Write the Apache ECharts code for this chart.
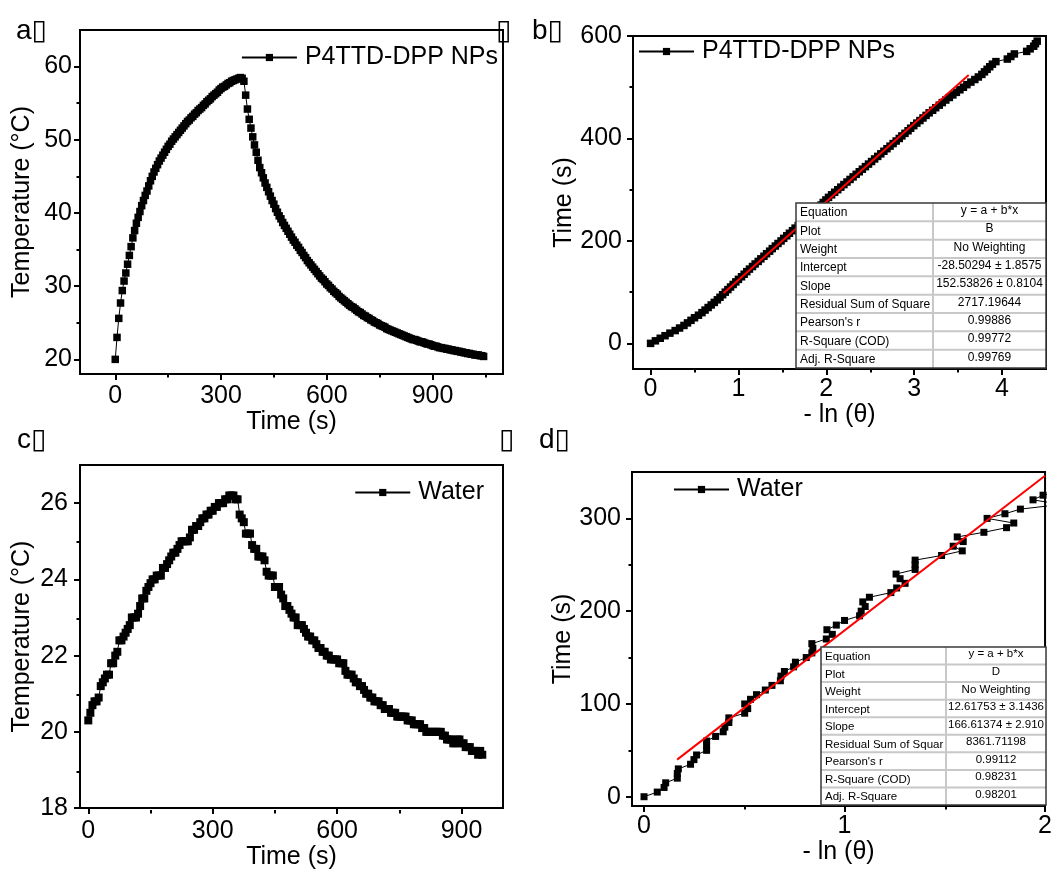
<!DOCTYPE html>
<html><head><meta charset="utf-8">
<script src="https://cdn.jsdelivr.net/npm/echarts@6/dist/echarts.min.js"></script>
<style>html,body{margin:0;padding:0;background:#fff}#c{width:1055px;height:871px}</style>
</head><body><div id="c"></div>
<script>
// ---------------- data ----------------
const STEP = 5; // sampling interval (s)
// (a) P4TTD-DPP NPs temperature (°C), every 5 s from 0 s
const tempA = [
20.0,23.0,25.6,27.7,29.4,30.7,31.8,33.0,34.2,35.4,
36.6,37.6,38.6,39.4,40.2,41.0,41.7,42.4,43.0,43.7,
44.4,45.0,45.6,46.1,46.6,47.1,47.5,47.9,48.3,48.7,
49.1,49.4,49.8,50.1,50.4,50.7,51.0,51.3,51.6,51.9,
52.2,52.5,52.7,53.0,53.2,53.5,53.7,54.0,54.2,54.4,
54.7,54.9,55.2,55.4,55.6,55.9,56.1,56.3,56.5,56.8,
57.0,57.2,57.3,57.5,57.7,57.8,58.0,58.1,58.2,58.3,
58.4,58.5,58.4,
58.0,56.1,54.2,52.8,51.6,50.4,49.3,48.3,47.2,46.2,
45.5,44.8,44.1,43.5,42.9,42.3,41.7,41.2,40.6,40.1,
39.6,39.2,38.7,38.3,37.9,37.5,37.1,36.7,36.3,36.0,
35.6,35.3,34.9,34.6,34.2,33.9,33.5,33.2,32.9,32.6,
32.3,32.0,31.7,31.4,31.1,30.9,30.6,30.3,30.1,29.8,
29.6,29.3,29.1,28.9,28.6,28.4,28.2,28.0,27.8,27.6,
27.4,27.2,27.1,26.9,26.7,26.5,26.4,26.2,26.0,25.9,
25.7,25.6,25.4,25.3,25.1,25.0,24.9,24.7,24.6,24.5,
24.4,24.2,24.1,24.0,23.9,23.8,23.7,23.6,23.5,23.4,
23.3,23.2,23.1,23.0,22.9,22.8,22.7,22.7,22.6,22.5,
22.4,22.4,22.3,22.2,22.1,22.1,22.0,21.9,21.8,21.8,
21.7,21.6,21.6,21.5,21.5,21.4,21.4,21.3,21.3,21.2,
21.2,21.1,21.1,21.0,21.0,20.9,20.9,20.8,20.8,20.7,
20.7,20.6,20.6,20.6,20.5,20.5,20.4];
// (b) -ln(theta) of NPs cooling, cooling time every 5 s from 0 s
const lnB = [
0,0.055,0.11,0.165,0.22,0.28,0.33,0.38,0.42,0.46,
0.50,0.545,0.585,0.62,0.655,0.69,0.725,0.76,0.79,0.82,
0.85,0.88,0.91,0.94,0.97,1.0,1.035,1.065,1.095,1.125,
1.16,1.19,1.225,1.255,1.29,1.32,1.355,1.385,1.42,1.45,
1.485,1.515,1.55,1.58,1.615,1.645,1.68,1.71,1.745,1.775,
1.81,1.84,1.875,1.905,1.94,1.965,1.995,2.025,2.06,2.095,
2.13,2.165,2.2,2.235,2.27,2.305,2.34,2.375,2.41,2.445,
2.48,2.515,2.55,2.585,2.62,2.655,2.69,2.725,2.76,2.795,
2.83,2.86,2.895,2.93,2.96,2.995,3.03,3.065,3.1,3.135,
3.17,3.21,3.245,3.285,3.32,3.36,3.4,3.44,3.48,3.52,
3.56,3.6,3.645,3.69,3.73,3.77,3.8,3.83,3.86,3.89,
3.93,4.06,4.1,4.14,4.28,4.32,4.36,4.38,4.4];
// (c) Water temperature (°C), every 5 s from 0 s
const tempC = [
20.3,20.5,20.7,20.8,20.8,20.9,21.2,21.3,21.4,21.5,
21.5,21.8,21.8,22.0,22.1,22.4,22.4,22.5,22.6,22.7,
22.8,23.0,23.0,23.0,23.1,23.3,23.5,23.5,23.7,23.8,
23.9,24.0,24.0,24.1,24.1,24.1,24.3,24.3,24.4,24.5,
24.6,24.7,24.7,24.8,24.9,25.0,25.0,25.0,25.0,25.1,
25.3,25.3,25.4,25.4,25.5,25.6,25.6,25.7,25.7,25.8,
25.8,25.9,25.9,26.0,26.0,26.0,26.1,26.1,26.2,26.2,
26.2,26.1,26.1,25.7,25.6,25.5,25.2,25.2,25.2,24.9,
24.8,24.8,24.6,24.6,24.6,24.5,24.2,24.1,24.1,24.1,
23.8,23.8,23.8,23.6,23.5,23.3,23.3,23.2,23.1,23.0,
23.0,22.8,22.8,22.8,22.7,22.6,22.5,22.5,22.4,22.4,
22.3,22.2,22.2,22.1,22.1,22.0,22.0,21.9,21.9,21.9,
21.9,21.8,21.8,21.8,21.6,21.5,21.5,21.5,21.4,21.3,
21.3,21.2,21.2,21.1,21.0,21.0,20.9,20.9,20.8,20.8,
20.8,20.7,20.7,20.6,20.6,20.6,20.5,20.5,20.5,20.4,
20.4,20.4,20.4,20.4,20.3,20.3,20.3,20.2,20.2,20.2,
20.2,20.1,20.1,20.0,20.0,20.0,20.0,20.0,20.0,20.0,
20.0,19.9,19.9,19.8,19.8,19.8,19.7,19.7,19.8,19.8,
19.7,19.7,19.6,19.6,19.6,19.5,19.5,19.5,19.4,19.5,
19.4];
// (d) Water cooling: -ln(theta) and time (s)
const lnD = [0,0.066,0.10,0.108,0.166,0.166,0.171,0.232,0.249,0.262,
0.312,0.312,0.312,0.357,0.395,0.403,0.423,0.423,0.502,0.517,
0.502,0.531,0.561,0.605,0.638,0.680,0.683,0.700,0.746,0.755,
0.809,0.837,0.842,0.837,0.909,0.939,0.912,0.959,1.0,1.075,
1.083,1.103,1.091,1.124,1.231,1.26,1.302,1.277,1.257,1.352,
1.352,1.352,1.484,1.587,1.542,1.592,1.562,1.695,1.808,1.844,
1.711,1.80,1.877,2.08,1.94,1.99,2.1];
const timeD = [0,5,10,15,20,25,30,35,40,45,
50,55,60,65,70,75,80,85,90,95,
100,105,110,115,120,125,130,135,140,145,
150,155,160,165,170,175,180,185,190,195,
200,205,210,215,220,225,230,235,240,245,
250,255,260,265,270,275,280,285,290,295,
300,305,310,315,320,325,330];
// linear fits (end points of drawn red lines)
const fitBx = [0.83, 3.62], fitBy = [98, 524];
const fitDx = [0.165, 2.0], fitDy = [40, 346];
// tick labels
const ticksTime = [0, 300, 600, 900];
const ticksLnB = [0, 1, 2, 3, 4];
const ticksLnD = [0, 1, 2];
const ticksTempA = [20, 30, 40, 50, 60];
const ticksTempC = [18, 20, 22, 24, 26];
const ticksTimeB = [0, 200, 400, 600];
const ticksTimeD = [0, 100, 200, 300];
// fit tables
const tableB = [["Equation","y = a + b*x"],["Plot","B"],["Weight","No Weighting"],["Intercept","-28.50294 ± 1.8575"],["Slope","152.53826 ± 0.8104"],["Residual Sum of Square","2717.19644"],["Pearson's r","0.99886"],["R-Square (COD)","0.99772"],["Adj. R-Square","0.99769"]];
const tableD = [["Equation","y = a + b*x"],["Plot","D"],["Weight","No Weighting"],["Intercept","12.61753 ± 3.1436"],["Slope","166.61374 ± 2.910"],["Residual Sum of Squar","8361.71198"],["Pearson's r","0.99112"],["R-Square (COD)","0.98231"],["Adj. R-Square","0.98201"]];

// ---------------- layout ----------------
const F = '"Liberation Sans", Arial, sans-serif';
const FS = 25;
const grids = [
  {left:80, top:30, width:423, height:344},
  {left:633, top:36, width:413, height:333},
  {left:80, top:465, width:423, height:345},
  {left:632, top:472, width:414, height:334}
];
const panels = [
  {x:{min:-100,max:1100,major:ticksTime,minor:[150,450,750,1050],name:'Time (s)',gap:31,margin:10},
   y:{min:18,max:65,major:ticksTempA,minor:[25,35,45,55],name:'Temperature (°C)',gap:45,margin:8}},
  {x:{min:-0.2,max:4.5,major:ticksLnB,minor:[0.5,1.5,2.5,3.5],name:'- ln (θ)',gap:28,margin:8},
   y:{min:-50,max:600,major:ticksTimeB,minor:[100,300,500],name:'Time (s)',gap:55,margin:11}},
  {x:{min:-20,max:1000,major:ticksTime,minor:[150,450,750],name:'Time (s)',gap:32,margin:11},
   y:{min:18,max:27,major:ticksTempC,minor:[19,21,23,25],name:'Temperature (°C)',gap:45,margin:12}},
  {x:{min:-0.06,max:2,major:ticksLnD,minor:[0.5,1.5],name:'- ln (θ)',gap:33,margin:8},
   y:{min:-10,max:350,major:ticksTimeD,minor:[50,150,250],name:'Time (s)',gap:56,margin:11}}
];

const gridOpt = [], xAxes = [], yAxes = [];
grids.forEach(g => gridOpt.push(Object.assign({show:true, borderColor:'#000', borderWidth:2, backgroundColor:'transparent', containLabel:false}, g)));
grids.forEach(g => gridOpt.push(Object.assign({show:false, containLabel:false}, g)));
const lineS = {color:'#000', width:2};
const nameStyle = {fontSize:FS, color:'#000', fontFamily:F};
panels.forEach((p, i) => {
  xAxes.push({type:'value', gridIndex:i, min:p.x.min, max:p.x.max, position:'bottom',
    axisLine:{show:true, onZero:false, lineStyle:lineS},
    axisTick:{show:true, length:6, lineStyle:lineS, customValues:p.x.major},
    axisLabel:{show:true, customValues:p.x.major, color:'#000', fontSize:FS, fontFamily:F, margin:p.x.margin},
    splitLine:{show:false}, name:p.x.name, nameLocation:'middle', nameGap:p.x.gap, nameTextStyle:nameStyle});
  yAxes.push({type:'value', gridIndex:i, min:p.y.min, max:p.y.max, position:'left',
    axisLine:{show:true, onZero:false, lineStyle:lineS},
    axisTick:{show:true, length:6, lineStyle:lineS, customValues:p.y.major},
    axisLabel:{show:true, customValues:p.y.major, color:'#000', fontSize:FS, fontFamily:F, margin:p.y.margin},
    splitLine:{show:false}, name:p.y.name, nameLocation:'middle', nameGap:p.y.gap, nameTextStyle:nameStyle});
});
panels.forEach((p, i) => {
  xAxes.push({type:'value', gridIndex:4+i, min:p.x.min, max:p.x.max, position:'bottom',
    axisLine:{show:false, onZero:false}, axisLabel:{show:false},
    axisTick:{show:true, length:3.5, lineStyle:lineS, customValues:p.x.minor}, splitLine:{show:false}});
  yAxes.push({type:'value', gridIndex:4+i, min:p.y.min, max:p.y.max, position:'left',
    axisLine:{show:false, onZero:false}, axisLabel:{show:false},
    axisTick:{show:true, length:3.5, lineStyle:lineS, customValues:p.y.minor}, splitLine:{show:false}});
});

const dataA = tempA.map((v, i) => [i * STEP, v]);
const dataB = lnB.map((v, i) => [v, i * STEP]);
const dataC = tempC.map((v, i) => [i * STEP, v]);
const dataD = lnD.map((v, i) => [v, timeD[i]]);
const fitB = fitBx.map((v, i) => [v, fitBy[i]]);
const fitD = fitDx.map((v, i) => [v, fitDy[i]]);

function sym(name, idx, data, size) {
  return {type:'line', name, xAxisIndex:idx, yAxisIndex:idx, data, symbol:'rect', symbolSize:size,
    showSymbol:true, itemStyle:{color:'#000'}, lineStyle:{color:'#000', width:1}, z:2, animation:false};
}
function fit(idx, data) {
  return {type:'line', name:'fit'+idx, xAxisIndex:idx, yAxisIndex:idx, data, symbol:'none',
    lineStyle:{color:'#ff0000', width:2}, z:3, animation:false, silent:true};
}
const series = [
  sym('P4TTD-DPP NPs', 0, dataA, 7.5),
  sym('P4TTD-DPP NPs', 1, dataB, 7.5),
  fit(1, fitB),
  sym('Water', 2, dataC, 8),
  sym('Water', 3, dataD, 7),
  fit(3, fitD)
];

const legBase = {orient:'horizontal', itemWidth:55, itemHeight:9, padding:0, selectedMode:false,
  textStyle:{fontSize:FS, color:'#000', fontFamily:F, padding:[0,0,0,3]}};
const legend = [
  Object.assign({data:['P4TTD-DPP NPs'], right:557, top:45}, legBase),
  Object.assign({data:['P4TTD-DPP NPs'], left:638, top:39}, legBase),
  Object.assign({data:['Water'], right:571, top:480}, legBase),
  Object.assign({data:['Water'], left:673, top:477}, legBase)
];

// ---------- graphics: panel letters and fit tables ----------
const graphic = [];
const LF = '28px "Liberation Sans", "DejaVu Sans", sans-serif';
const TOFU = '\u25AF';
[['a' + TOFU, 16, 17], [TOFU, 496, 17], ['b' + TOFU, 532, 17],
 ['c' + TOFU, 17, 426], [TOFU, 499, 426], ['d' + TOFU, 539, 426]].forEach(l => {
  graphic.push({type:'text', x:l[1], y:l[2], z:100, style:{text:l[0], font:LF, fill:'#000', align:'left', verticalAlign:'top'}});
});
function addTable(rows, x, y, w, h, split, fs) {
  const rh = h / rows.length;
  graphic.push({type:'rect', z:100, shape:{x, y, width:w, height:h}, style:{fill:'#fff', stroke:null}});
  for (let r = 1; r < rows.length; r++) {
    graphic.push({type:'line', z:101, shape:{x1:x, y1:y + r*rh, x2:x + w, y2:y + r*rh}, style:{stroke:'#c8c8c8', lineWidth:2}});
  }
  graphic.push({type:'line', z:101, shape:{x1:split, y1:y, x2:split, y2:y + h}, style:{stroke:'#c8c8c8', lineWidth:2}});
  graphic.push({type:'rect', z:102, shape:{x, y, width:w, height:h}, style:{fill:null, stroke:'#3a3a3a', lineWidth:1.5}});
  rows.forEach((row, r) => {
    const cy = y + r*rh + rh/2;
    graphic.push({type:'text', z:103, x:x + 4, y:cy + 1, style:{text:row[0], font:fs + 'px ' + F, fill:'#000', align:'left', verticalAlign:'middle'}});
    graphic.push({type:'text', z:103, x:(split + x + w)/2, y:cy - 1.5, style:{text:row[1], font:fs + 'px ' + F, fill:'#000', align:'center', verticalAlign:'middle'}});
  });
}
addTable(tableB, 796, 203, 250, 165, 933, 12);
addTable(tableD, 821, 647, 225, 158, 946, 11.5);

const chart = echarts.init(document.getElementById('c'), null, {renderer:'canvas'});
chart.setOption({
  animation:false, backgroundColor:'#fff',
  grid:gridOpt, xAxis:xAxes, yAxis:yAxes, series, legend, graphic
});
</script>
</body></html>
